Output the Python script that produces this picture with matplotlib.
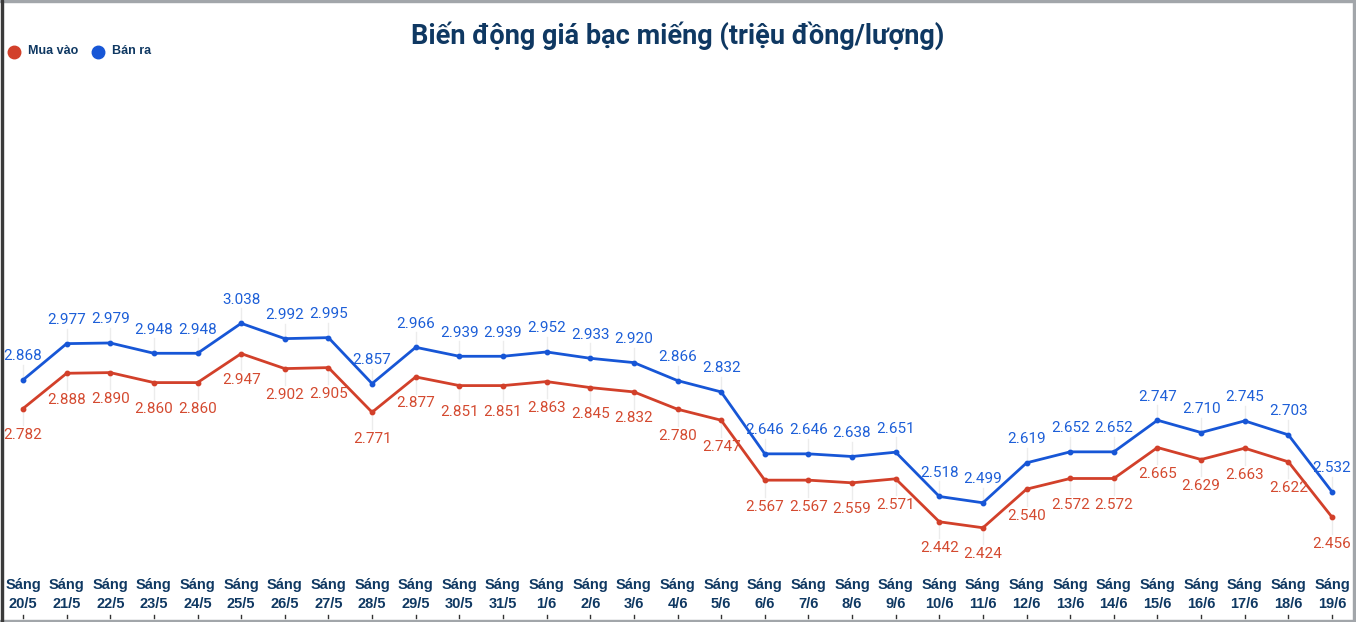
import matplotlib
matplotlib.use("Agg")
import matplotlib.pyplot as plt
from matplotlib.patches import Rectangle
from matplotlib.lines import Line2D

dates = ["20/5", "21/5", "22/5", "23/5", "24/5", "25/5", "26/5", "27/5", "28/5", "29/5",
         "30/5", "31/5", "1/6", "2/6", "3/6", "4/6", "5/6", "6/6", "7/6", "8/6",
         "9/6", "10/6", "11/6", "12/6", "13/6", "14/6", "15/6", "16/6", "17/6", "18/6", "19/6"]
mua_vao = [2.782, 2.888, 2.890, 2.860, 2.860, 2.947, 2.902, 2.905, 2.771, 2.877,
           2.851, 2.851, 2.863, 2.845, 2.832, 2.780, 2.747, 2.567, 2.567, 2.559,
           2.571, 2.442, 2.424, 2.540, 2.572, 2.572, 2.665, 2.629, 2.663, 2.622, 2.456]
ban_ra = [2.868, 2.977, 2.979, 2.948, 2.948, 3.038, 2.992, 2.995, 2.857, 2.966,
          2.939, 2.939, 2.952, 2.933, 2.920, 2.866, 2.832, 2.646, 2.646, 2.638,
          2.651, 2.518, 2.499, 2.619, 2.652, 2.652, 2.747, 2.710, 2.745, 2.703, 2.532]
title = "Biến động giá bạc miếng (triệu đồng/lượng)"
series_names = ["Mua vào", "Bán ra"]

RED = "#d2402a"
BLUE = "#1756d6"
RED_T = "#d44a30"
BLUE_T = "#1d5fd8"
NAVY = "#0f3862"

W, H = 1356, 622
fig = plt.figure(figsize=(W / 100, H / 100), dpi=100)
ax = fig.add_axes([0, 0, 1, 1])
n = len(dates)
px = (n - 1) / (1332 - 23)
ax.set_xlim(-23 * px, (n - 1) + (W - 1332) * px)
ax.set_ylim(2.141, 4.009)
ax.axis("off")

xs = list(range(n))
# faint leader lines
for i in xs:
    ax.plot([i, i], [ban_ra[i] + 0.012, ban_ra[i] + 0.045], color="#ececec", lw=1, zorder=1)
    ax.plot([i, i], [mua_vao[i] - 0.012, mua_vao[i] - 0.05], color="#ececec", lw=1, zorder=1)

ax.plot(xs, ban_ra, color=BLUE, lw=2, marker="o", ms=3.2, zorder=3)
ax.plot(xs, mua_vao, color=RED, lw=2, marker="o", ms=3.2, zorder=3)

for i in xs:
    ax.annotate(f"{ban_ra[i]:.3f}", (i, ban_ra[i]), xytext=(0, 23.5 * 0.72), textcoords="offset points",
                ha="center", va="center", fontsize=11, color=BLUE_T, family="Roboto", zorder=4)
    ax.annotate(f"{mua_vao[i]:.3f}", (i, mua_vao[i]), xytext=(0, -26.5 * 0.72), textcoords="offset points",
                ha="center", va="center", fontsize=11, color=RED_T, family="Roboto", zorder=4)

# x labels
for i, d in enumerate(dates):
    ax.text(i, 1 - 585 / H, "Sáng", transform=ax.get_xaxis_transform(), ha="center", va="center",
            fontsize=10.5, fontweight="bold", color=NAVY, family="Liberation Sans")
    ax.text(i, 1 - 604 / H, d, transform=ax.get_xaxis_transform(), ha="center", va="center",
            fontsize=10.5, fontweight="bold", color=NAVY, family="Liberation Sans")
    ax.plot([i, i], [1 - 615 / H, 1 - 618 / H], transform=ax.get_xaxis_transform(),
            color="#333333", lw=1, clip_on=False)

# title
fig.text(678 / W, 1 - 36 / H, title, ha="center", va="center", fontsize=19.5, fontweight="bold",
         color=NAVY, family="Roboto")

# legend
fig.add_artist(Line2D([14 / W], [1 - 51.5 / H], marker="o", ms=9, color=RED, lw=0))
fig.text(28 / W, 1 - 51.5 / H, series_names[0], ha="left", va="center", fontsize=9, fontweight="bold",
         color=NAVY, family="Liberation Sans")
fig.add_artist(Line2D([98 / W], [1 - 51.5 / H], marker="o", ms=9, color=BLUE, lw=0))
fig.text(112 / W, 1 - 51.5 / H, series_names[1], ha="left", va="center", fontsize=9, fontweight="bold",
         color=NAVY, family="Liberation Sans")

# border
fig.patches.append(Rectangle((0, 1 - 2 / H), 1, 2 / H, transform=fig.transFigure, color="#a2a6aa", zorder=10))
fig.patches.append(Rectangle((0, 0), 1, 2 / H, transform=fig.transFigure, color="#a2a6aa", zorder=10))
fig.patches.append(Rectangle((1 - 3 / W, 0), 3 / W, 1, transform=fig.transFigure, color="#a2a6aa", zorder=10))
fig.patches.append(Rectangle((1 / W, 0), 2 / W, 1, transform=fig.transFigure, color="#3a3a3a", zorder=10))

fig.savefig("out.png", dpi=100)
